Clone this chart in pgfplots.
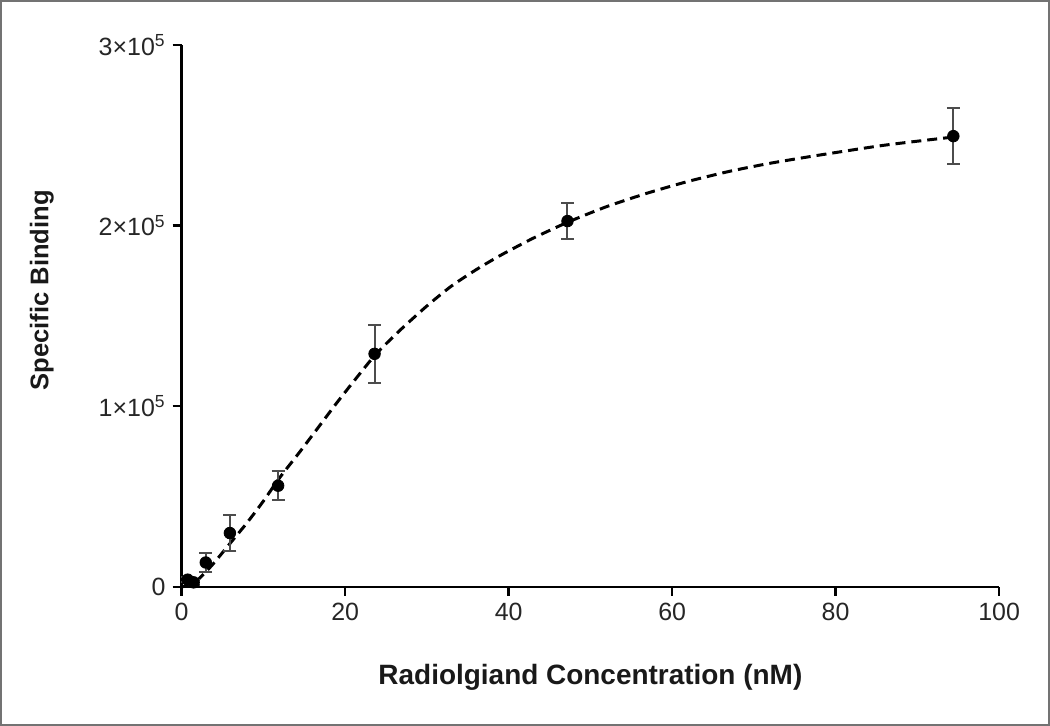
\documentclass[border=0pt]{standalone}
\usepackage{pgfplots}
\pgfplotsset{compat=1.18}
\usepackage{fontspec}
\setmainfont{Liberation Sans}
\begin{document}
\begin{tikzpicture}
\begin{axis}[
  at={(0,0)}, anchor=south west,
  scale only axis, width=409.5pt, height=271.5pt,
  xmin=0, xmax=100, ymin=0, ymax=300000,
  axis lines=left, axis line style={line width=1.2pt, -},
  tick style={line width=1.2pt, black},
  tick align=outside, major tick length=4.5pt,
  xtick={0,20,40,60,80,100},
  xticklabels={0,20,40,60,80,100},
  ytick={0,100000,200000,300000},
  yticklabels={0,1×10\textsuperscript{5},2×10\textsuperscript{5},3×10\textsuperscript{5}},
  scaled y ticks=false,
  minor tick num=0,
  ticklabel style={font=\fontsize{12.5}{14}\selectfont, text=black!85},
  xlabel={Radiolgiand Concentration (nM)},
  ylabel={Specific Binding},
  every axis x label/.style={at={(axis description cs:0.5,0)}, yshift=-45.5pt, anchor=center, font=\fontsize{14}{16}\selectfont\bfseries, text=black!90},
  every axis y label/.style={at={(axis description cs:0,0.547)}, xshift=-70pt, rotate=90, anchor=center, font=\fontsize{12.8}{16}\selectfont\bfseries, text=black!90},
  clip=false,
]
\addplot[black, line width=1.5pt, dash pattern=on 5pt off 3pt, smooth, tension=0.4] coordinates {
 (0,0) (1,1200) (2,4000) (3,8500) (4,13500) (6,24500) (8,35500) (10,47500)
 (12,60500) (14.5,75000) (17,90000) (19,102000) (21,113500) (23.7,128500)
 (26.7,142000) (30,155500) (33,166500) (36,175500) (39,183500) (43,193000)
 (47.3,202000) (52,210500) (57,218000) (62,224500) (67,230000) (72,234500)
 (78,239000) (86,244500) (94.4,249000)
};
\addplot[only marks, mark=*, mark size=2.9pt, black,
  error bars/.cd, y dir=both, y explicit,
  error bar style={line width=1pt, black!70},
  error mark options={rotate=90, mark size=3.2pt, line width=1pt, black!70}]
  coordinates {
 (0.74,4000) +- (0,1500)
 (1.47,2500) +- (0,1500)
 (2.95,13500) +- (0,5500)
 (5.9,29800) +- (0,10000)
 (11.8,56000) +- (0,8000)
 (23.6,129000) +- (0,16000)
 (47.2,202500) +- (0,10200)
 (94.4,249500) +- (0,15500)
};
\end{axis}
\draw[line width=1pt, black!55] (-90.5pt,-69pt) rectangle (434.5pt,293.5pt);
\end{tikzpicture}
\end{document}
